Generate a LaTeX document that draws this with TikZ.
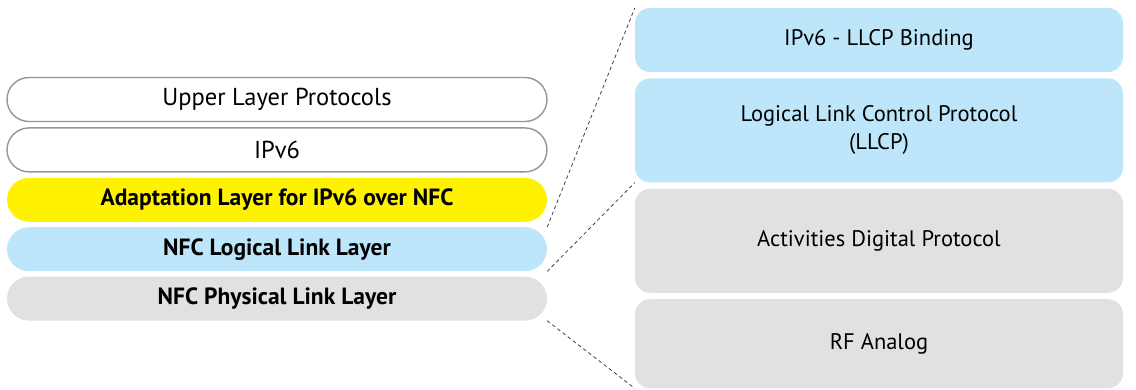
\documentclass[tikz,border=0pt]{standalone}
\usepackage{fontspec}
\setmainfont{PT Sans}
\usetikzlibrary{positioning}

\definecolor{layeryellow}{RGB}{255,242,0}
\definecolor{layerblue}{RGB}{190,230,250}
\definecolor{layergray}{RGB}{225,225,225}
\definecolor{layerline}{RGB}{150,150,150}

\begin{document}
\begin{tikzpicture}[x=1pt,y=1pt,node distance=5pt]
	\tikzstyle{stack}
	  =[rectangle, rounded corners=22pt, minimum width=540pt,
	  minimum height=44pt, inner sep=0pt, align=center, font=\fontsize{24.5}{28}\selectfont]
	\tikzstyle{stack_open}
	  =[stack, draw=layerline, line width=1.4pt, fill=white]
	\tikzstyle{stack_bold}
	  =[stack, font=\fontsize{23.5}{28}\selectfont\bfseries]
	\tikzstyle{zoom}
	  =[rectangle, rounded corners=15pt, minimum width=488pt,
	  inner sep=0pt, align=center, font=\fontsize{22.5}{28}\selectfont]
	\tikzstyle{guide}
	  =[draw=black!75, line width=0.8pt, dash pattern=on 3.5pt off 3pt]

	\useasboundingbox (0,0) rectangle (1136,-389);

	% protocol stack on the left
	\node[stack_open] (upper) at (277,-99.5)
	  {Upper Layer Protocols};
	\node[stack_open] (ipv6)
	  [below=5pt of upper] {IPv6};
	\node[stack_bold, fill=layeryellow] (adapt)
	  [below=5pt of ipv6] {Adaptation Layer for IPv6 over NFC};
	\node[stack_bold, fill=layerblue] (logical)
	  [below=5pt of adapt] {NFC Logical Link Layer};
	\node[stack_bold, fill=layergray] (physical)
	  [below=5pt of logical] {NFC Physical Link Layer};

	% expanded view of the NFC layers
	\node[zoom, fill=layerblue, minimum height=64pt] (binding) at (879,-40)
	  {IPv6 - LLCP Binding};
	\node[zoom, fill=layerblue, minimum height=104pt] (llcp)
	  [below=6pt of binding] {Logical Link Control Protocol\\(LLCP)};
	\node[zoom, fill=layergray, minimum height=104pt] (digital)
	  [below=6pt of llcp] {Activities Digital Protocol};
	\node[zoom, fill=layergray, minimum height=89pt] (analog)
	  [below=6pt of digital] {RF Analog};

	\draw[guide] (logical.north east) -- (binding.north west);
	\draw[guide] (logical.south east) -- (llcp.south west);
	\draw[guide] (physical.south east) -- (analog.south west);
\end{tikzpicture}
\end{document}
